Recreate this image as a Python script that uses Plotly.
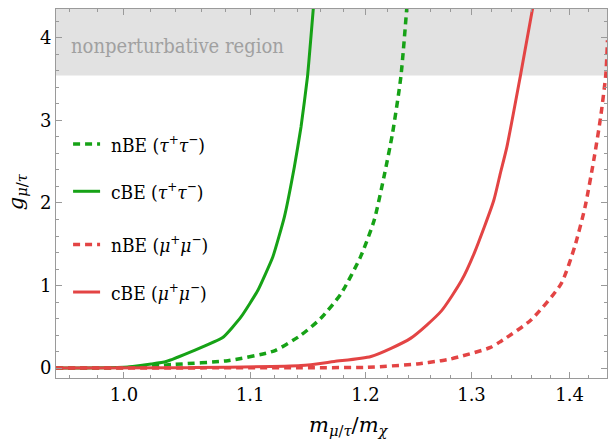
import plotly.graph_objects as go
import math

# ---- data ----
green_solid_x = [0.95, 1.0, 1.0208, 1.0324, 1.0774, 1.0924, 1.1063, 1.119, 1.1287, 1.1373, 1.143, 1.1486, 1.1538]
green_solid_y = [0.0, 0.01, 0.05, 0.08, 0.37, 0.62, 0.94, 1.35, 1.83, 2.44, 2.92, 3.53, 4.38]

green_dash_x = [0.95, 1.0, 1.0389, 1.0815, 1.1203, 1.143, 1.160, 1.178, 1.1956, 1.2079, 1.2169, 1.2247, 1.2325, 1.238]
green_dash_y = [0.0, 0.005, 0.045, 0.09, 0.21, 0.40, 0.60, 0.90, 1.35, 1.79, 2.32, 2.84, 3.53, 4.36]

red_solid_x = [0.95, 1.05, 1.143, 1.172, 1.205, 1.2415, 1.2706, 1.2902, 1.3026, 1.322, 1.3286, 1.3352, 1.3487, 1.3617]
red_solid_y = [0.0, 0.005, 0.03, 0.08, 0.14, 0.36, 0.69, 1.06, 1.39, 2.03, 2.36, 2.68, 3.53, 4.38]

red_dash_x = [0.95, 1.143, 1.2018, 1.2477, 1.2706, 1.2797, 1.3188, 1.3286, 1.3594, 1.3909, 1.4053, 1.4163, 1.4257, 1.4331, 1.4388, 1.4405]
red_dash_y = [0.0, 0.005, 0.01, 0.05, 0.09, 0.11, 0.25, 0.32, 0.58, 1.02, 1.47, 1.95, 2.52, 3.04, 3.57, 3.97]

x_ticks = [1.0, 1.1, 1.2, 1.3, 1.4]
x_ticklabels = ["1.0", "1.1", "1.2", "1.3", "1.4"]
x_minor = [0.96, 0.98, 1.02, 1.04, 1.06, 1.08, 1.12, 1.14, 1.16, 1.18,
           1.22, 1.24, 1.26, 1.28, 1.32, 1.34, 1.36, 1.38, 1.42, 1.44]
y_ticks = [0, 1, 2, 3, 4]
perturbative_bound = 3.545
x_range = [0.95, 1.44]
y_range = [-0.12, 4.35]

legend_labels = ["nBE (<i>τ</i><sup>+</sup><i>τ</i><sup>−</sup>)",
                 "cBE (<i>τ</i><sup>+</sup><i>τ</i><sup>−</sup>)",
                 "nBE (<i>μ</i><sup>+</sup><i>μ</i><sup>−</sup>)",
                 "cBE (<i>μ</i><sup>+</sup><i>μ</i><sup>−</sup>)"]

GREEN = "#16a216"
RED = "#e34444"
AXC = "#9a9a9a"
FONT = "DejaVu Serif"
FONT_COND = "DejaVu Serif Condensed, DejaVu Serif"
DASH = "7px,5px"

fig = go.Figure()
series = [
    (green_dash_x, green_dash_y, GREEN, DASH, 3.5, 0.6),
    (green_solid_x, green_solid_y, GREEN, "solid", 3, 0.4),
    (red_dash_x, red_dash_y, RED, DASH, 3.5, 0.6),
    (red_solid_x, red_solid_y, RED, "solid", 3, 0.6),
]
for xs, ys, c, d, w, sm in series:
    fig.add_trace(go.Scatter(x=xs, y=ys, mode="lines",
                             line=dict(color=c, width=w, dash=d, shape="spline", smoothing=sm),
                             showlegend=False, hoverinfo="skip"))

fig.add_shape(type="rect", xref="paper", yref="y", x0=0, x1=1,
              y0=perturbative_bound, y1=y_range[1],
              fillcolor="#e2e2e2", line=dict(width=0), layer="below")
fig.add_annotation(xref="paper", yref="y", x=0.024, y=3.90,
                   text="nonperturbative region", showarrow=False,
                   xanchor="left", yanchor="middle",
                   font=dict(family=FONT_COND, size=20, color="#a0a0a0"))

leg_y = [0.634, 0.506, 0.362, 0.233]
leg_style = [(GREEN, DASH), (GREEN, "solid"), (RED, DASH), (RED, "solid")]
for (c, d), yy, lab in zip(leg_style, leg_y, legend_labels):
    fig.add_shape(type="line", xref="paper", yref="paper",
                  x0=0.031, x1=0.080, y0=yy, y1=yy,
                  line=dict(color=c, width=3.5 if d != "solid" else 3, dash=d))
    fig.add_annotation(xref="paper", yref="paper", x=0.097, y=yy,
                       text=lab, showarrow=False, xanchor="left", yanchor="middle",
                       font=dict(family=FONT_COND, size=19, color="black"))

fig.add_annotation(xref="paper", yref="paper", x=0.532, y=-0.13,
                   text="<i>m</i><sub><i>μ</i>/<i>τ</i></sub>/<i>m</i><sub><i>χ</i></sub>",
                   showarrow=False, xanchor="center", yanchor="middle",
                   font=dict(family=FONT, size=21, color="black"))
fig.add_annotation(xref="paper", yref="paper", x=-0.071, y=0.506,
                   text="<i>g</i><sub><i>μ</i>/<i>τ</i></sub>", textangle=-90,
                   showarrow=False, xanchor="center", yanchor="middle",
                   font=dict(family=FONT, size=21, color="black"))

fig.update_layout(
    width=608, height=445,
    margin=dict(l=56, r=1, t=9, b=67),
    paper_bgcolor="white", plot_bgcolor="white",
    font=dict(family=FONT, size=18, color="black"),
    xaxis=dict(type="log", range=[math.log10(x_range[0]), math.log10(x_range[1])],
               tickmode="array", tickvals=x_ticks, ticktext=x_ticklabels,
               ticks="inside", ticklen=6, tickcolor=AXC, tickwidth=1,
               showline=True, linecolor=AXC, linewidth=1, mirror="allticks",
               showgrid=False, zeroline=False,
               tickfont=dict(family=FONT, size=18, color="black"),
               minor=dict(tickmode="array", tickvals=x_minor, ticks="inside",
                          ticklen=3, tickcolor=AXC, showgrid=False)),
    yaxis=dict(range=y_range, tickmode="array", tickvals=y_ticks,
               ticks="inside", ticklen=6, tickcolor=AXC, tickwidth=1,
               showline=True, linecolor=AXC, linewidth=1, mirror="allticks",
               showgrid=False, zeroline=False,
               tickfont=dict(family=FONT, size=18, color="black"),
               minor=dict(dtick=0.2, ticks="inside", ticklen=3,
                          tickcolor=AXC, showgrid=False)),
)

fig.write_html("out.html")
